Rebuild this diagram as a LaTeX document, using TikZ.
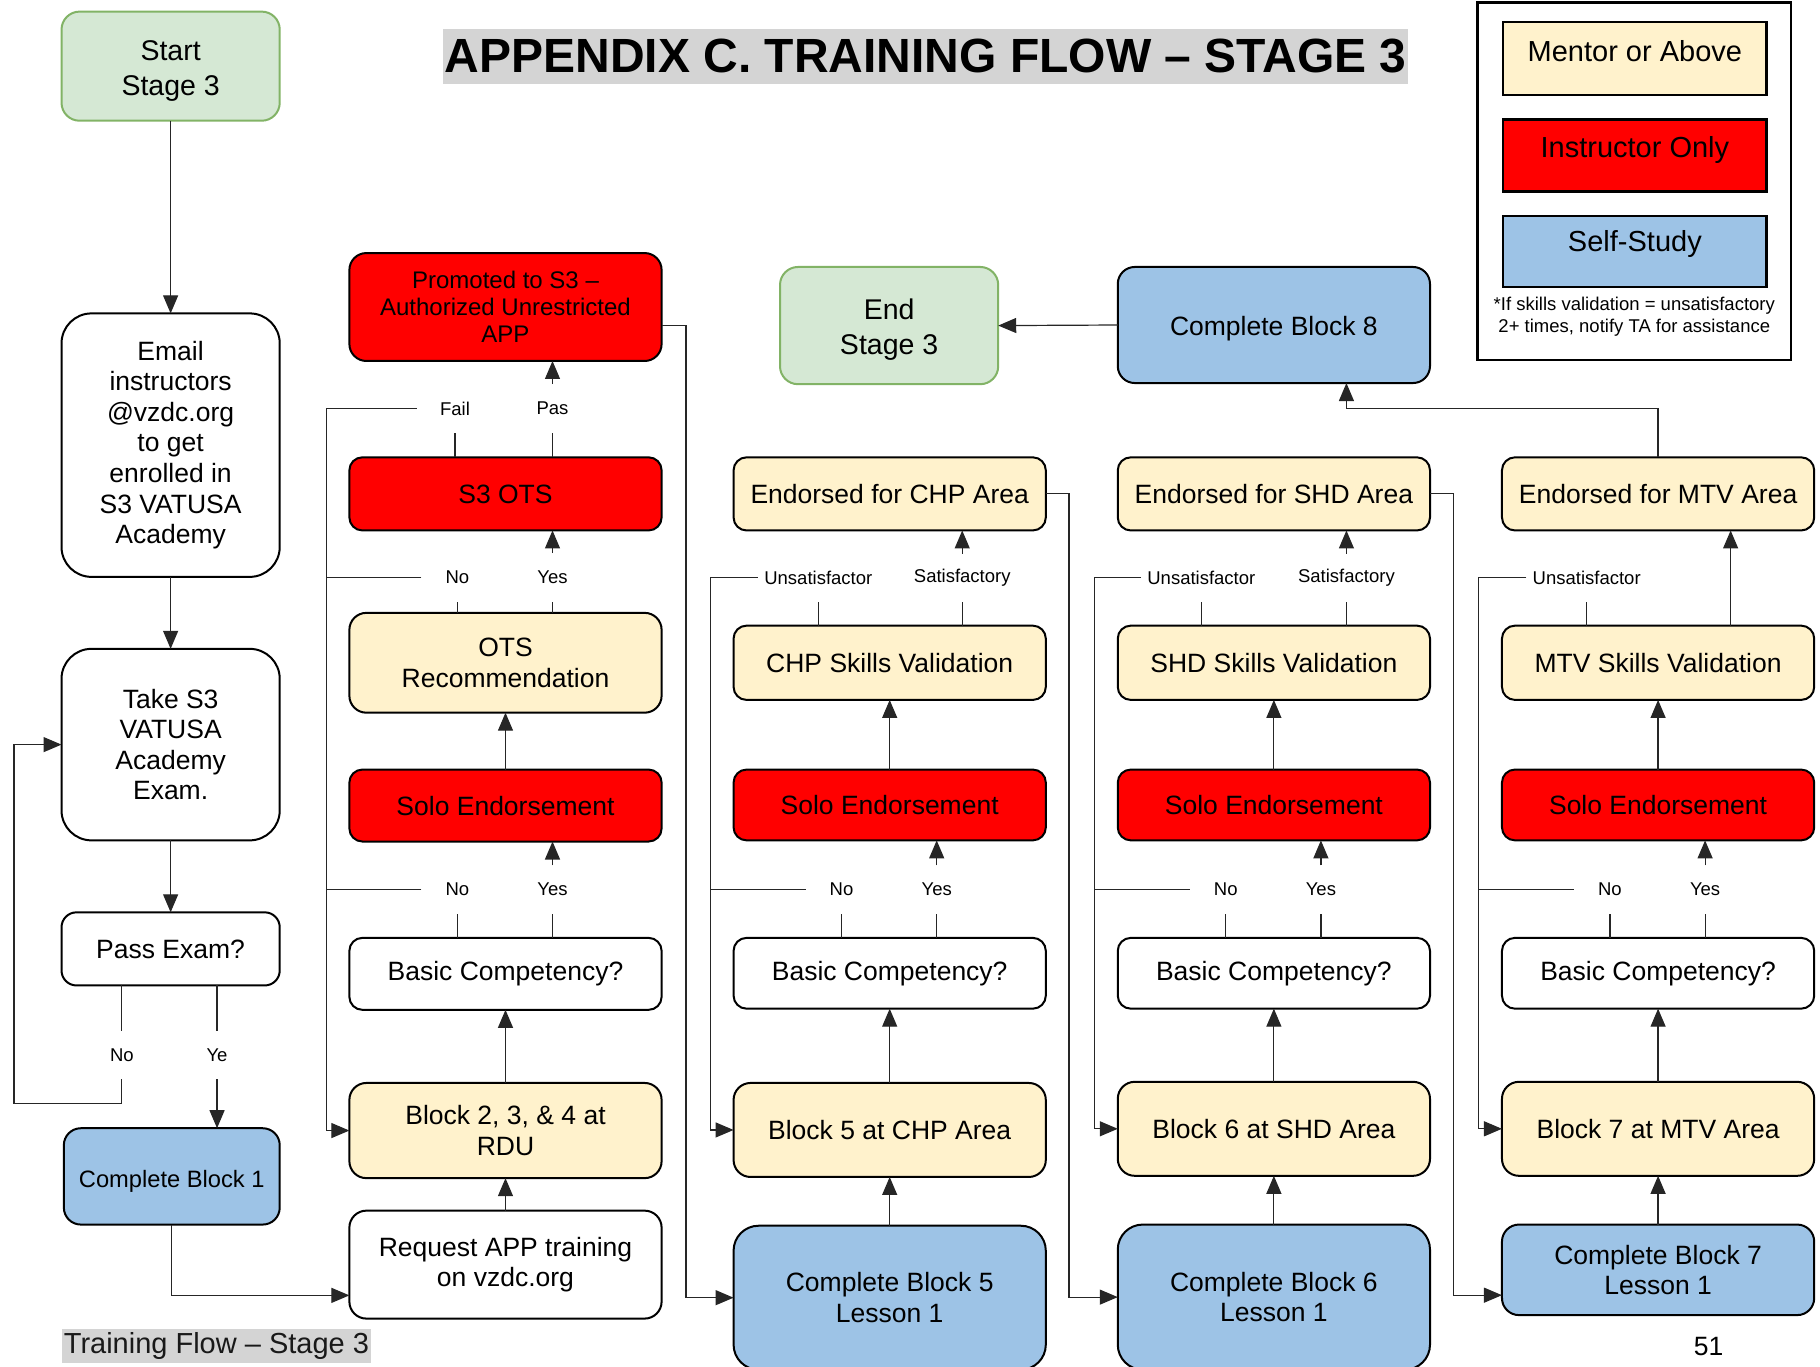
\documentclass[tikz,border=0pt]{standalone}
\usepackage{fontspec}
\setmainfont{Liberation Sans}
\usetikzlibrary{arrows.meta,calc}
\definecolor{cream}{HTML}{FFF2CC}
\definecolor{sblue}{HTML}{9DC3E6}
\definecolor{gfill}{HTML}{D5E8D4}
\definecolor{gline}{HTML}{82B366}
\definecolor{hgray}{HTML}{D4D4D4}
\newcommand\mybox[7]{%
  \pgfmathsetmacro\bxcx{(#2+#4)/2}%
  \pgfmathsetmacro\bxcy{(#3+#5)/2}%
  \pgfmathsetmacro\bxw{(#4-#2)*1.1607}%
  \pgfmathsetmacro\bxh{(#5-#3)*1.1607}%
  \node[#6, minimum width=\bxw pt, minimum height=\bxh pt] (#1) at (\bxcx,\bxcy) {#7};}
\newcommand\lowr[2]{\raisebox{-#1}[\height][\depth]{\begin{tabular}{@{}c@{}}#2\end{tabular}}}
\newcommand\lowone[2]{\raisebox{-#1}[\height][\depth]{#2}}
\begin{document}
\begin{tikzpicture}[x=1.1607pt,y=-1.1607pt,
  bx/.style={draw=black, line width=2pt, rounded corners=13pt, inner sep=0pt, outer sep=0pt, align=center, font=\fontsize{26.5}{30.6}\selectfont},
  wbx/.style={bx, fill=white},
  ybx/.style={bx, fill=cream},
  rbx/.style={bx, fill=red},
  bbx/.style={bx, fill=sblue},
  gbx/.style={bx, fill=gfill, draw=gline, rounded corners=18pt, font=\fontsize{28.5}{35}\selectfont},
  legbx/.style={draw=black, line width=2.4pt, inner sep=0pt, outer sep=0pt, font=\fontsize{29}{32}\selectfont},
  lab/.style={inner sep=0pt, outer sep=0pt, minimum width=72pt, minimum height=48.75pt, font=\fontsize{18.5}{20}\selectfont},
  conn/.style={line width=1.2pt, draw=black!85},
  arr/.style={conn, -{Triangle[length=18pt,width=15pt]}}]
\useasboundingbox (0,0) rectangle (1568,1177);

% title and footer
\mybox{title}{382}{25}{1213}{72}{fill=hgray, inner sep=0pt, font=\bfseries\fontsize{48}{50}\selectfont}{APPENDIX C. TRAINING FLOW – STAGE 3}
\mybox{foot}{53}{1145}{320}{1174}{fill=hgray, inner sep=0pt, text=black!90, font=\fontsize{29}{30}\selectfont}{Training Flow – Stage 3}
\node[font=\fontsize{26.5}{28}\selectfont] (pg) at (1472,1160) {51};

% legend
\mybox{legend}{1273}{2}{1543}{310}{draw=black, line width=2.4pt, inner sep=0pt}{}
\mybox{lgm}{1295}{19}{1522}{82}{legbx, fill=cream}{\raisebox{7.5pt}[\height][\depth]{Mentor or Above}}
\mybox{lgi}{1295}{103}{1522}{165}{legbx, fill=red}{\raisebox{6pt}[\height][\depth]{Instructor Only}}
\mybox{lgs}{1295}{186}{1522}{247}{legbx, fill=sblue}{\raisebox{7pt}[\height][\depth]{Self-Study}}
\node[align=center, inner sep=0pt, font=\fontsize{18.5}{22}\selectfont] (lgnote) at (1408,272.5) {*If skills validation = unsatisfactory\\2+ times, notify TA for assistance};

% left column
\mybox{start}{53}{10}{241}{104}{gbx}{\lowr{4.5pt}{Start\\Stage 3}}
\mybox{email}{53}{270}{241}{497}{wbx, rounded corners=30pt}{Email\\instructors\\@vzdc.org\\to get\\enrolled in\\S3 VATUSA\\Academy}
\mybox{take}{53}{559}{241}{724}{wbx, rounded corners=30pt}{Take S3\\VATUSA\\Academy\\Exam.}
\mybox{pass}{53}{786}{241}{849}{wbx, rounded corners=15pt}{Pass Exam?}
\mybox{cb1}{55}{972}{241}{1055}{bbx, rounded corners=17pt, font=\fontsize{23.7}{27}\selectfont}{\lowone{4.5pt}{Complete Block 1}}

% column 2
\mybox{req}{301}{1043}{570}{1136}{wbx, rounded corners=17pt}{Request APP training\\on vzdc.org}
\mybox{b2}{301}{933}{570}{1015}{ybx, rounded corners=17pt}{Block 2, 3, \& 4 at\\RDU}
\mybox{bc2}{301}{808}{570}{870}{wbx}{Basic Competency?}
\mybox{solo2}{301}{663}{570}{725}{rbx}{Solo Endorsement}
\mybox{ots}{301}{528}{570}{614}{ybx, rounded corners=17pt}{OTS\\Recommendation}
\mybox{s3ots}{301}{394}{570}{457}{rbx}{S3 OTS}
\mybox{prom}{301}{218}{570}{311}{rbx, rounded corners=17pt, font=\fontsize{24}{27}\selectfont}{Promoted to S3 –\\Authorized Unrestricted\\APP}

% column 3
\mybox{cb5}{632}{1056}{901}{1180}{bbx, rounded corners=25pt}{Complete Block 5\\Lesson 1}
\mybox{b5}{632}{933}{901}{1014}{ybx, rounded corners=17pt}{Block 5 at CHP Area}
\mybox{bc3}{632}{808}{901}{869}{wbx}{Basic Competency?}
\mybox{solo3}{632}{663}{901}{724}{rbx}{Solo Endorsement}
\mybox{sv3}{632}{539}{901}{603}{ybx}{CHP Skills Validation}
\mybox{en3}{632}{394}{901}{457}{ybx}{Endorsed for CHP Area}
\mybox{endn}{672}{230}{860}{331}{gbx}{\lowr{4.5pt}{End\\Stage 3}}

% column 4
\mybox{cb6}{963}{1055}{1232}{1180}{bbx, rounded corners=25pt}{Complete Block 6\\Lesson 1}
\mybox{b6}{963}{932}{1232}{1013}{ybx, rounded corners=17pt}{Block 6 at SHD Area}
\mybox{bc4}{963}{808}{1232}{869}{wbx}{Basic Competency?}
\mybox{solo4}{963}{663}{1232}{724}{rbx}{Solo Endorsement}
\mybox{sv4}{963}{539}{1232}{603}{ybx}{SHD Skills Validation}
\mybox{en4}{963}{394}{1232}{457}{ybx}{Endorsed for SHD Area}
\mybox{cb8}{963}{230}{1232}{330}{bbx, rounded corners=17pt}{\lowone{3.5pt}{Complete Block 8}}

% column 5
\mybox{cb7}{1294}{1055}{1563}{1133}{bbx, rounded corners=17pt}{Complete Block 7\\Lesson 1}
\mybox{b7}{1294}{932}{1563}{1013}{ybx, rounded corners=17pt}{Block 7 at MTV Area}
\mybox{bc5}{1294}{808}{1563}{869}{wbx}{Basic Competency?}
\mybox{solo5}{1294}{663}{1563}{724}{rbx}{Solo Endorsement}
\mybox{sv5}{1294}{539}{1563}{603}{ybx}{MTV Skills Validation}
\mybox{en5}{1294}{394}{1563}{457}{ybx}{Endorsed for MTV Area}

% labels
\node[lab] (noP) at (105,909) {No};
\node[lab] (yeP) at (187,909) {Ye};
\node[lab, minimum width=76.6pt] (fail) at (392,352) {Fail};
\node[lab] (pas) at (476,352) {Pas};
\node[lab] (no2a) at (394,497.5) {No};
\node[lab] (yes2a) at (476,497.5) {Yes};
\node[lab] (no2b) at (394,766.5) {No};
\node[lab] (yes2b) at (476,766.5) {Yes};
\node[lab, minimum width=120.7pt] (un3) at (705,497.5) {Unsatisfactor};
\node[lab] (sa3) at (829,498) {Satisfactory};
\node[lab] (no3) at (725,766.5) {No};
\node[lab] (yes3) at (807,766.5) {Yes};
\node[lab, minimum width=120.7pt] (un4) at (1035,497.5) {Unsatisfactor};
\node[lab] (sa4) at (1160,498) {Satisfactory};
\node[lab] (no4) at (1056,766.5) {No};
\node[lab] (yes4) at (1138,766.5) {Yes};
\node[lab, minimum width=120.7pt] (un5) at (1367,497.5) {Unsatisfactor};
\node[lab] (no5) at (1387,766.5) {No};
\node[lab] (yes5) at (1469,766.5) {Yes};

% helper coordinates
\coordinate (loop) at (12,951);
\coordinate (rail2) at (281,0);
\coordinate (rail3) at (612,0);
\coordinate (rail4) at (943,0);
\coordinate (rail5) at (1274,0);
\coordinate (drop2) at (591,0);
\coordinate (drop3) at (921,0);
\coordinate (drop4) at (1252,0);
\coordinate (satM) at (1491,0);
\coordinate (k8) at (1160,352);
\coordinate (reqin) at ($(req.south west)!0.215!(req.north west)$);
\coordinate (cb7in) at ($(cb7.south west)!0.22!(cb7.north west)$);
\coordinate (promR) at ($(prom.north east)!0.67!(prom.south east)$);

% left column connectors
\draw[arr] (start.south) -- (email.north);
\draw[arr] (email.south) -- (take.north);
\draw[arr] (take.south) -- (pass.north);
\draw[conn] (pass.south -| noP) -- (noP.north);
\draw[conn] (pass.south -| yeP) -- (yeP.north);
\draw[arr] (yeP.south) -- (cb1.north -| yeP);
\draw[arr] (noP.south) |- (loop) |- (take.west);
\draw[arr] (cb1.south) |- (reqin);

% column 2 connectors
\draw[arr] (req.north) -- (b2.south);
\draw[arr] (b2.north) -- (bc2.south);
\draw[conn] (bc2.north -| no2b) -- (no2b.south);
\draw[conn] (bc2.north -| yes2b) -- (yes2b.south);
\draw[arr] (yes2b.north) -- (solo2.south -| yes2b);
\draw[arr] (solo2.north) -- (ots.south);
\draw[conn] (ots.north -| no2a) -- (no2a.south);
\draw[conn] (ots.north -| yes2a) -- (yes2a.south);
\draw[arr] (yes2a.north) -- (s3ots.south -| yes2a);
\draw[conn] (s3ots.north -| fail) -- (fail.south);
\draw[conn] (s3ots.north -| pas) -- (pas.south);
\draw[arr] (pas.north) -- (prom.south -| pas);
\draw[arr] (fail.west) -- (fail.west -| rail2) |- (b2.west);
\draw[conn] (no2a.west) -- (no2a.west -| rail2);
\draw[conn] (no2b.west) -- (no2b.west -| rail2);
\draw[arr] (promR) -- (promR -| drop2) |- (cb5.west);

% column 3 connectors
\draw[arr] (cb5.north) -- (b5.south);
\draw[arr] (b5.north) -- (bc3.south);
\draw[conn] (bc3.north -| no3) -- (no3.south);
\draw[conn] (bc3.north -| yes3) -- (yes3.south);
\draw[arr] (yes3.north) -- (solo3.south -| yes3);
\draw[arr] (solo3.north) -- (sv3.south);
\draw[conn] (sv3.north -| un3) -- (un3.south);
\draw[conn] (sv3.north -| sa3) -- (sa3.south);
\draw[arr] (sa3.north) -- (en3.south -| sa3);
\draw[arr] (un3.west) -- (un3.west -| rail3) |- (b5.west);
\draw[conn] (no3.west) -- (no3.west -| rail3);
\draw[arr] (en3.east) -- (en3.east -| drop3) |- (cb6.west);

% column 4 connectors
\draw[arr] (cb6.north) -- (b6.south);
\draw[arr] (b6.north) -- (bc4.south);
\draw[conn] (bc4.north -| no4) -- (no4.south);
\draw[conn] (bc4.north -| yes4) -- (yes4.south);
\draw[arr] (yes4.north) -- (solo4.south -| yes4);
\draw[arr] (solo4.north) -- (sv4.south);
\draw[conn] (sv4.north -| un4) -- (un4.south);
\draw[conn] (sv4.north -| sa4) -- (sa4.south);
\draw[arr] (sa4.north) -- (en4.south -| sa4);
\draw[arr] (un4.west) -- (un4.west -| rail4) |- (b6.west);
\draw[conn] (no4.west) -- (no4.west -| rail4);
\draw[arr] (en4.east) -- (en4.east -| drop4) |- (cb7in);
\draw[arr] (cb8.west) -- (endn.east);

% column 5 connectors
\draw[arr] (cb7.north) -- (b7.south);
\draw[arr] (b7.north) -- (bc5.south);
\draw[conn] (bc5.north -| no5) -- (no5.south);
\draw[conn] (bc5.north -| yes5) -- (yes5.south);
\draw[arr] (yes5.north) -- (solo5.south -| yes5);
\draw[arr] (solo5.north) -- (sv5.south);
\draw[conn] (sv5.north -| un5) -- (un5.south);
\draw[arr] (sv5.north -| satM) -- (en5.south -| satM);
\draw[arr] (un5.west) -- (un5.west -| rail5) |- (b7.west);
\draw[conn] (no5.west) -- (no5.west -| rail5);
\draw[arr] (en5.north) |- (k8) -- (cb8.south -| k8);
\end{tikzpicture}
\end{document}
